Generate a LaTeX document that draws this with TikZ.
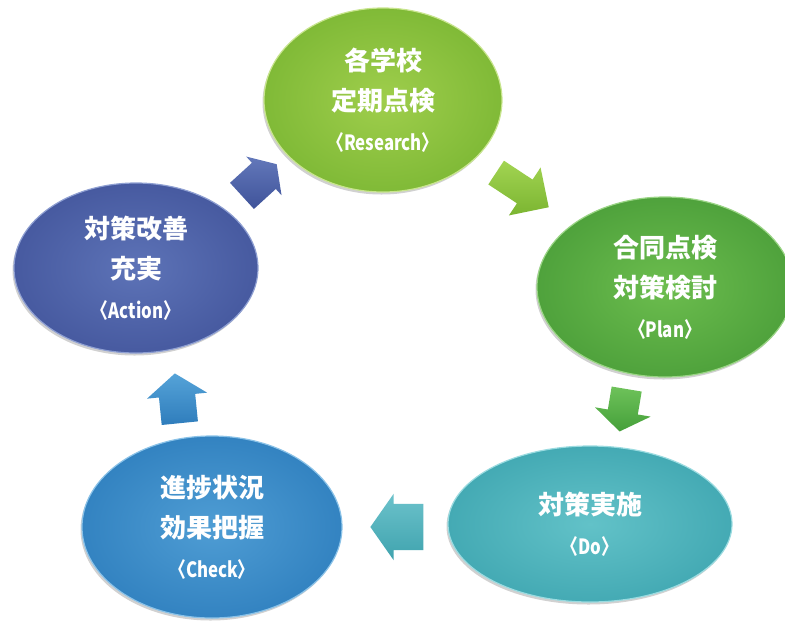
\documentclass[tikz,border=0pt]{standalone}
\usepackage{fontspec}
\usepackage{graphicx}
\newfontfamily\jp{Noto Sans CJK JP}
\usetikzlibrary{shapes.geometric,shapes.arrows,shadows}
\newcommand\jpL{\jp\bfseries\fontsize{26}{40}\selectfont}
\newcommand\enL{\jp\bfseries\fontsize{21}{40}\selectfont}
\newcommand\enT[1]{\enL\scalebox{0.8}[1]{#1}}
\definecolor{rin}{HTML}{9FCE4C}\definecolor{rout}{HTML}{80BA37}\definecolor{rrim}{HTML}{C8E58E}
\definecolor{pin}{HTML}{6CBD4E}\definecolor{pout}{HTML}{4FA23C}\definecolor{prim}{HTML}{9AD585}
\definecolor{din}{HTML}{62C2C8}\definecolor{dout}{HTML}{44AAB4}\definecolor{drim}{HTML}{9ADBE0}
\definecolor{cin}{HTML}{4F9DD4}\definecolor{cout}{HTML}{3383C1}\definecolor{crim}{HTML}{8AC2E8}
\definecolor{ain}{HTML}{5D73B7}\definecolor{aout}{HTML}{475AA0}\definecolor{arim}{HTML}{8E9FD2}
\definecolor{aoneT}{HTML}{A2D452}\definecolor{aoneB}{HTML}{7BB531}
\definecolor{atwoT}{HTML}{6EC25A}\definecolor{atwoB}{HTML}{45A03A}
\definecolor{athrT}{HTML}{6CC2CB}\definecolor{athrB}{HTML}{3FA3AE}
\definecolor{afouT}{HTML}{55A3D8}\definecolor{afouB}{HTML}{2F7DBC}
\definecolor{afivT}{HTML}{6378BA}\definecolor{afivB}{HTML}{3F539A}
\tikzset{
  ell/.style n args={3}{ellipse, inner sep=0pt, inner color=#1, outer color=#2,
    draw=#3, line width=1.2pt, text=white, align=center, font=\jpL,
    drop shadow={shadow xshift=-1.5pt, shadow yshift=-2.5pt, opacity=0.18, fill=black}},
  arrowbox/.style n args={2}{single arrow, inner xsep=0pt, draw=none,
    top color=#1, bottom color=#2}
}
\begin{document}
\begin{tikzpicture}[x=1pt,y=-1pt]
\fill[white] (0,0) rectangle (785,622);
\useasboundingbox (0,0) rectangle (785,622);

\node[ell={rin}{rout}{rrim}, minimum width=238pt, minimum height=184pt] (res) at (383,100)
  {各学校\\ 定期点検\\ \enT{〈Research〉}};
\node[ell={pin}{pout}{prim}, minimum width=256pt, minimum height=180pt] (plan) at (665,287)
  {合同点検\\ 対策検討\\ \enT{〈Plan〉}};
\node[ell={din}{dout}{drim}, minimum width=284pt, minimum height=156pt] (do) at (590,524)
  {対策実施\\ \enT{〈Do〉}};
\node[ell={cin}{cout}{crim}, minimum width=260pt, minimum height=182pt] (check) at (212,527)
  {進捗状況\\ 効果把握\\ \enT{〈Check〉}};
\node[ell={ain}{aout}{arim}, minimum width=244pt, minimum height=170pt] (act) at (136,268)
  {対策改善\\ 充実\\ \enT{〈Action〉}};

\node[arrowbox={aoneT}{aoneB}, minimum height=63pt, inner ysep=14pt,
  single arrow head extend=14.5pt, single arrow tip angle=90, rotate=-33.4] (a1) at (516.5,186) {};
\node[arrowbox={atwoT}{atwoB}, minimum height=43pt, inner ysep=15pt,
  single arrow head extend=13pt, single arrow tip angle=110, rotate=-99.5] (a2) at (624,405) {};
\node[arrowbox={athrT}{athrB}, minimum height=53pt, inner ysep=23pt,
  single arrow head extend=10pt, single arrow tip angle=110, rotate=180] (a3) at (405,527) {};
\node[arrowbox={afouT}{afouB}, minimum height=50pt, inner ysep=18pt,
  single arrow head extend=12pt, single arrow tip angle=107, rotate=95.7] (a4) at (178,405) {};
\node[arrowbox={afivT}{afivB}, minimum height=47pt, inner ysep=17.5pt,
  single arrow head extend=8.5pt, single arrow tip angle=113, rotate=42.4] (a5) at (255,184) {};
\end{tikzpicture}
\end{document}
